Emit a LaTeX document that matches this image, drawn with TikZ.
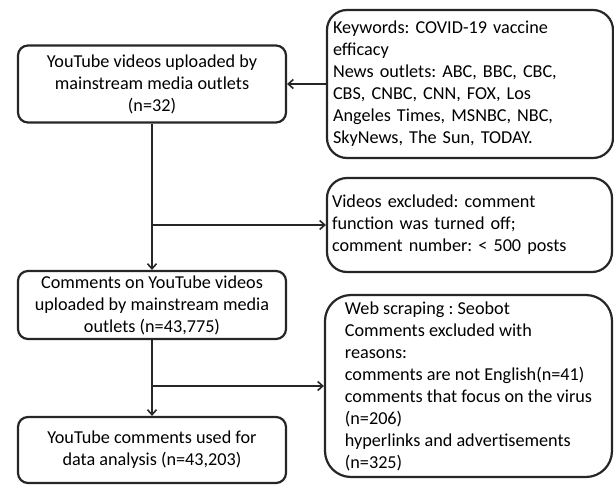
\documentclass[tikz,border=0pt]{standalone}
\usepackage{fontspec}
\setmainfont{Carlito}
\usetikzlibrary{arrows.meta, positioning}
\frenchspacing

\begin{document}
\begin{tikzpicture}[
      x=1pt, y=-1pt,
      box/.style={draw=black!85, line width=2.2pt, rectangle, inner sep=0pt, font=\fontsize{18.2}{22}\selectfont},
      block/.style={box, rounded corners=10pt, align=center, minimum width=268pt},
      note/.style={box, rounded corners=20pt, align=left},
      line/.style={draw=black!85, line width=1.6pt, -{Straight Barb[length=5pt, width=9pt]}}
  ]
      \useasboundingbox (0,0) rectangle (614,485);

      % Left: main flow
      \node [block, minimum height=77pt] (vids) at (152, 84) {YouTube videos uploaded by\\mainstream media outlets\\(n=32)};
      \node [block, minimum height=68pt] (cmts) at (152, 305) {Comments on YouTube videos\\uploaded by mainstream media\\outlets (n=43,775)};
      \node [block, minimum height=66pt] (used) at (152, 450) {YouTube comments used for\\data analysis (n=43,203)};

      % Right: search and exclusions
      \node [note, text width=274pt, minimum width=286pt, minimum height=148pt] (kw) at (470, 84) {Keywords: COVID-19 vaccine\\efficacy\\News outlets: ABC, BBC, CBC,\\CBS, CNBC, CNN, FOX, Los\\Angeles Times, MSNBC, NBC,\\SkyNews, The Sun, TODAY.};
      \node [note, text width=275pt, minimum width=285pt, minimum height=94pt] (excl) at (469.5, 225) {Videos excluded: comment\\function was turned off;\\comment number: < 500 posts};
      \node [note, rounded corners=26pt, minimum width=287pt, minimum height=182pt] (rsn) at (468.5, 386) {Web scraping : Seobot\\Comments excluded with\\reasons:\\comments are not English(n=41)\\comments that focus on the virus\\(n=206)\\hyperlinks and advertisements\\(n=325)};

      % Branch points
      \coordinate (b1) at (152, 225);
      \coordinate (b2) at (152, 386);

      % Connections
      \path [line] (kw.west) -- (vids.east);
      \path [line] (vids.south) -- (cmts.north);
      \path [line] (b1) -- (excl.west);
      \path [line] (cmts.south) -- (used.north);
      \path [line] (b2) -- (rsn.west);
\end{tikzpicture}
\end{document}
